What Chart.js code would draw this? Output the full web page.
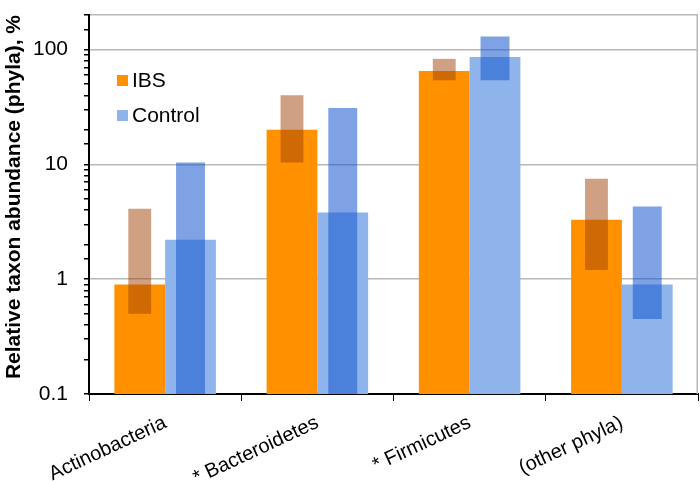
<!DOCTYPE html>
<html>
<head>
<meta charset="utf-8">
<script src="https://cdn.jsdelivr.net/npm/chart.js@4/dist/chart.umd.min.js"></script>
<style>
  html, body { margin: 0; padding: 0; background: #fff; }
  #wrap { width: 700px; height: 481px; }
</style>
</head>
<body>
<div id="wrap"><canvas id="phylaChart" width="700" height="481"></canvas></div>
<script>
// phyla and abundances (%)
const categories = ['Actinobacteria', '* Bacteroidetes', '* Firmicutes', '(other phyla)'];
const ibsMedian = [0.9, 20, 65, 3.3];
const controlMedian = [2.2, 3.8, 86, 0.9];
// interquartile ranges [low, high]
const ibsRange = [[0.5, 4.1], [10.4, 40], [54, 83], [1.2, 7.5]];
const controlRange = [[0.1, 10.4], [0.1, 31], [54, 130], [0.45, 4.3]];
const yTicks = [0.1, 1, 10, 100];
const yMin = 0.1, yMax = 200;

const ORANGE = '#ff9100';
const LIGHT_BLUE = '#8eb4eb';
const GRID = '#b8b8b8';

const isDecade = v => yTicks.some(t => Math.abs(t - v) < t * 1e-6);

// legend inside the plot area + grey right-hand frame line, like the original
const insideLegend = {
  id: 'insideLegend',
  beforeDatasetsDraw(chart) {
    const { ctx, chartArea } = chart;
    ctx.save();
    ctx.strokeStyle = GRID;
    ctx.lineWidth = 1.5;
    ctx.beginPath();
    ctx.moveTo(chartArea.right - 0.75, chartArea.top);
    ctx.lineTo(chartArea.right - 0.75, chartArea.bottom);
    ctx.stroke();
    ctx.restore();
  },
  afterDraw(chart) {
    const ctx = chart.ctx;
    const items = [
      { text: 'IBS', color: ORANGE },
      { text: 'Control', color: LIGHT_BLUE }
    ];
    ctx.save();
    ctx.font = '21px "Liberation Sans", Arial, sans-serif';
    ctx.textBaseline = 'middle';
    items.forEach((it, i) => {
      const y = 80 + i * 35;
      ctx.fillStyle = it.color;
      ctx.fillRect(117, y - 5, 11, 11);
      ctx.fillStyle = '#000';
      ctx.fillText(it.text, 132, y + 1);
    });
    ctx.restore();
  }
};

new Chart(document.getElementById('phylaChart'), {
  type: 'bar',
  data: {
    labels: categories,
    datasets: [
      {
        label: 'IBS range',
        data: ibsRange,
        stack: 'ibs',
        order: 0,
        backgroundColor: 'rgba(160, 65, 5, 0.5)',
        barPercentage: 0.45,
        categoryPercentage: 0.667
      },
      {
        label: 'Control range',
        data: controlRange,
        stack: 'ctl',
        order: 0,
        backgroundColor: 'rgba(20, 85, 205, 0.55)',
        barPercentage: 0.57,
        categoryPercentage: 0.667
      },
      {
        label: 'IBS',
        data: ibsMedian,
        stack: 'ibs',
        order: 1,
        backgroundColor: ORANGE,
        barPercentage: 1,
        categoryPercentage: 0.667
      },
      {
        label: 'Control',
        data: controlMedian,
        stack: 'ctl',
        order: 1,
        backgroundColor: LIGHT_BLUE,
        barPercentage: 1,
        categoryPercentage: 0.667
      }
    ]
  },
  options: {
    responsive: false,
    animation: false,
    layout: {
      autoPadding: false,
      padding: { left: 0, top: 15, right: 2, bottom: 0 }
    },
    scales: {
      x: {
        stacked: true,
        offset: true,
        afterFit: s => {
          s.height = 87;
          s.paddingLeft = 0;
          s.paddingRight = 0;
        },
        grid: {
          offset: true,
          color: 'transparent',
          tickColor: '#000',
          tickLength: 7
        },
        border: { color: '#000', width: 2 },
        ticks: {
          color: '#000',
          font: { family: '"Liberation Sans", Arial, sans-serif', size: 20 },
          minRotation: 25,
          maxRotation: 25,
          padding: 10,
          autoSkip: false
        }
      },
      y: {
        type: 'logarithmic',
        stacked: false,
        min: yMin,
        max: yMax,
        afterFit: s => {
          s.width = 89;
          s.paddingTop = 0;
          s.paddingBottom = 0;
        },
        grid: {
          color: c => (c.tick && (isDecade(c.tick.value) || c.tick.value === yMax) ? GRID : 'transparent'),
          lineWidth: 1.5,
          tickColor: '#000',
          tickLength: 5
        },
        border: { color: '#000', width: 2 },
        ticks: {
          color: '#000',
          font: { family: '"Liberation Sans", Arial, sans-serif', size: 21 },
          padding: 16,
          autoSkip: false,
          callback: v => (isDecade(v) ? String(v) : '')
        },
        title: {
          display: true,
          text: 'Relative taxon abundance (phyla), %',
          align: 'end',
          color: '#000',
          font: { family: '"Liberation Sans", Arial, sans-serif', size: 21, weight: 'bold' },
          padding: { top: 2, bottom: 0 }
        }
      }
    },
    plugins: {
      legend: { display: false },
      tooltip: { enabled: false }
    }
  },
  plugins: [insideLegend]
});
</script>
</body>
</html>
